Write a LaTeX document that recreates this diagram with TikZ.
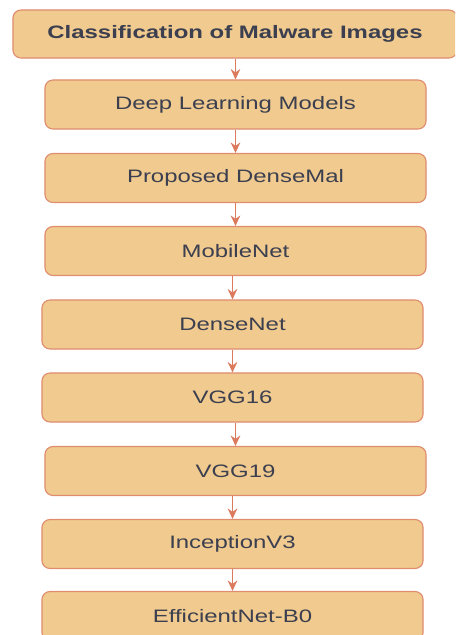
\documentclass[tikz,border=0pt]{standalone}
\usepackage{fontspec}
\setmainfont[FakeStretch=1.33]{Liberation Sans}
\usetikzlibrary{arrows.meta}
\usetikzlibrary{positioning}
\definecolor{boxfill}{HTML}{F0CA8E}
\definecolor{boxline}{HTML}{E08C6E}
\definecolor{arrowcol}{HTML}{DC7A5E}
\definecolor{txtcol}{HTML}{3B3F4F}

\begin{document}
\begin{tikzpicture}[x=0.025cm,y=-0.025cm,
  model/.style={rectangle,rounded corners=0.2cm,draw=boxline,line width=0.8pt,
    fill=boxfill,text=txtcol,minimum width=9.525cm,minimum height=1.225cm,
    font=\fontsize{12.8}{15}\selectfont},
  title/.style={model,minimum width=11.1cm,minimum height=1.2cm,font=\fontsize{12.8}{15}\selectfont\bfseries},
  link/.style={draw=arrowcol,line width=0.9pt,-{Stealth[length=2.6mm,width=2.4mm]}}]
\useasboundingbox (0,0) rectangle (455,635);
\begin{scope}
\clip (0,0) rectangle (455,635);
\node[title] (cls) at (235,34) {Classification of Malware Images};
\node[model] (dl) at (235.5,104.5) {Deep Learning Models};
\node[model] (dm) at (235.5,178) {Proposed DenseMal};
\node[model] (mn) at (235.5,251) {MobileNet};
\node[model] (dn) at (232.5,324.5) {DenseNet};
\node[model] (v16) at (232.5,397.5) {VGG16};
\node[model] (v19) at (235.5,471) {VGG19};
\node[model] (inc) at (232.5,544) {InceptionV3};
\node[model] (eff) at (232.5,616) {EfficientNet-B0};
\end{scope}
% arrows drop straight onto the box below
\foreach \a/\b in {cls/dl,dl/dm,dm/mn,mn/dn,dn/v16,v16/v19,v19/inc,inc/eff}
  \draw[link] (\b.north |- \a.south) -- (\b.north);
\end{tikzpicture}
\end{document}
